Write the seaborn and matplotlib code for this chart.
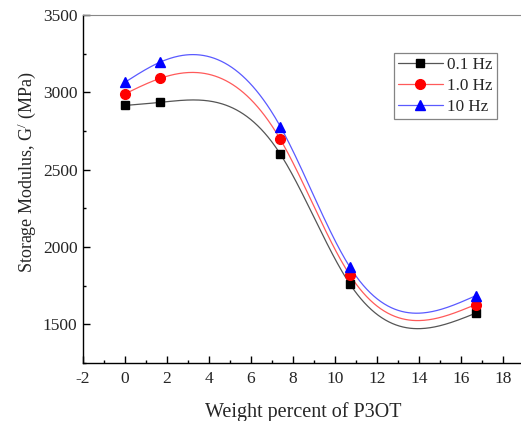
import numpy as np
import pandas as pd
import matplotlib
matplotlib.use("Agg")
import matplotlib.pyplot as plt
from matplotlib.lines import Line2D
from matplotlib.ticker import MultipleLocator
import seaborn as sns

# ----------------------------------------------------------------------
# Data
# ----------------------------------------------------------------------
weight_pct = [0.0, 1.67, 7.4, 10.7, 16.7]
g_01hz = [2915, 2935, 2600, 1762, 1572]
g_1hz = [2990, 3090, 2695, 1820, 1628]
g_10hz = [3065, 3195, 2778, 1872, 1685]
freq_labels = ["0.1 Hz", "1.0 Hz", "10 Hz"]

STYLE = {
    "0.1 Hz": dict(marker="s", color="black", line="#555555", ms=6.0),
    "1.0 Hz": dict(marker="o", color="red", line="#ff5a5a", ms=7.0),
    "10 Hz": dict(marker="^", color="blue", line="#5a5aff", ms=7.5),
}

df = pd.DataFrame({
    "Weight": weight_pct * 3,
    "G": g_01hz + g_1hz + g_10hz,
    "Freq": np.repeat(freq_labels, len(weight_pct)),
})


def natural_spline(x, y, xs):
    """Natural cubic spline through (x, y), evaluated at xs."""
    x = np.asarray(x, float)
    y = np.asarray(y, float)
    n = len(x)
    h = np.diff(x)
    A = np.zeros((n, n))
    b = np.zeros(n)
    A[0, 0] = A[-1, -1] = 1
    for i in range(1, n - 1):
        A[i, i - 1] = h[i - 1]
        A[i, i] = 2 * (h[i - 1] + h[i])
        A[i, i + 1] = h[i]
        b[i] = 6 * ((y[i + 1] - y[i]) / h[i] - (y[i] - y[i - 1]) / h[i - 1])
    m = np.linalg.solve(A, b)
    idx = np.clip(np.searchsorted(x, xs) - 1, 0, n - 2)
    t0 = xs - x[idx]
    t1 = x[idx + 1] - xs
    hi = h[idx]
    return (m[idx] * t1 ** 3 / (6 * hi) + m[idx + 1] * t0 ** 3 / (6 * hi)
            + (y[idx] / hi - m[idx] * hi / 6) * t1
            + (y[idx + 1] / hi - m[idx + 1] * hi / 6) * t0)


sns.set_theme(style="ticks")
plt.rcParams.update({
    "font.family": ["Liberation Serif", "DejaVu Serif"],
    "mathtext.fontset": "custom",
    "mathtext.rm": "Liberation Serif",
    "mathtext.it": "Liberation Serif:italic",
    "axes.unicode_minus": False,
    "xtick.direction": "in",
    "ytick.direction": "in",
})

fig = plt.figure(figsize=(5.21, 4.21), dpi=100)
ax = fig.add_axes([0.1593, 0.1378, 0.8465, 0.8266])

# smooth spline curves through the measured points
curves = []
for freq in freq_labels:
    sub = df[df["Freq"] == freq]
    xs = np.linspace(sub["Weight"].min(), sub["Weight"].max(), 300)
    curves.append(pd.DataFrame({"Weight": xs,
                                "G": natural_spline(sub["Weight"], sub["G"], xs),
                                "Freq": freq}))
curve_df = pd.concat(curves, ignore_index=True)

for freq in freq_labels:
    st = STYLE[freq]
    sns.lineplot(data=curve_df[curve_df["Freq"] == freq], x="Weight", y="G",
                 color=st["line"], linewidth=0.9, ax=ax, zorder=2)
    sub = df[df["Freq"] == freq]
    ax.plot(sub["Weight"], sub["G"], linestyle="none", marker=st["marker"],
            color=st["color"], markersize=st["ms"], zorder=3)

ax.set_xlim(-2, 19)
ax.set_ylim(1250, 3500)
ax.xaxis.set_major_locator(MultipleLocator(2))
ax.xaxis.set_minor_locator(MultipleLocator(1))
ax.yaxis.set_major_locator(MultipleLocator(500))
ax.yaxis.set_minor_locator(MultipleLocator(250))
ax.tick_params(which="major", length=5, width=1, labelsize=12.5, color="black", pad=6)
ax.tick_params(which="minor", length=2.5, width=1, color="black")
ax.tick_params(axis="y", pad=4)

for side in ["left", "bottom"]:
    ax.spines[side].set_color("black")
    ax.spines[side].set_linewidth(1.0)
ax.spines["top"].set_color("#888888")
ax.spines["top"].set_linewidth(0.8)
ax.spines["right"].set_visible(False)

ax.set_xlabel("Weight percent of P3OT", fontsize=14.5)
ax.set_ylabel(r"Storage Modulus, G$^{/}$ (MPa)", fontsize=13)
ax.xaxis.set_label_coords(0.5, -0.112)
ax.yaxis.set_label_coords(-0.102, 0.549)

handles = [Line2D([0], [0], color=STYLE[f]["line"], linewidth=0.9,
                  marker=STYLE[f]["marker"], markerfacecolor=STYLE[f]["color"],
                  markeredgecolor=STYLE[f]["color"], markersize=STYLE[f]["ms"])
           for f in freq_labels]
leg = ax.legend(handles, freq_labels, loc="upper left", bbox_to_anchor=(0.705, 0.891),
                borderaxespad=0, fontsize=12.3, frameon=True, fancybox=False,
                handlelength=2.6, borderpad=0.25, labelspacing=0.28, handletextpad=0.25)
leg.get_frame().set_edgecolor("#666666")
leg.get_frame().set_linewidth(0.9)

fig.savefig("out.png", dpi=100)
